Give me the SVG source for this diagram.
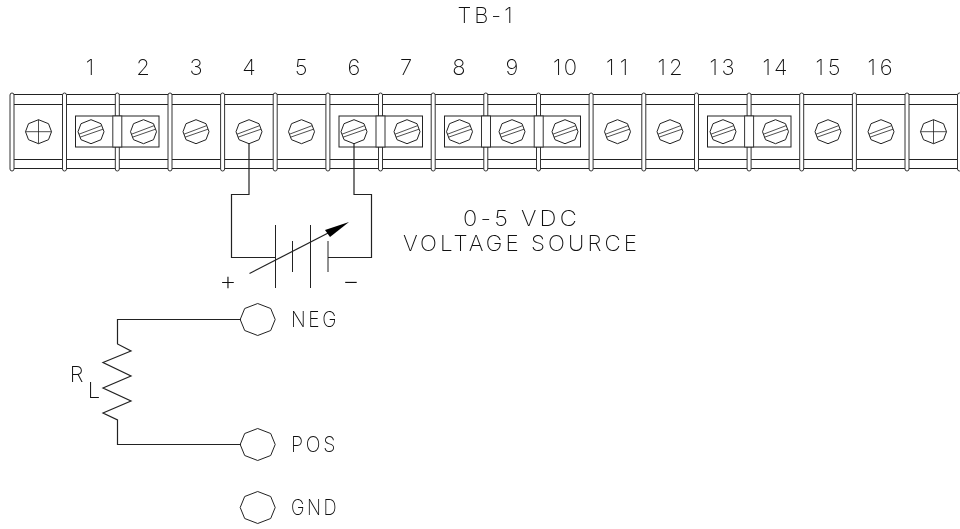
<svg xmlns="http://www.w3.org/2000/svg" width="960" height="529" viewBox="0 0 960 529">
<style>
.l{fill:none;stroke:#222;stroke-width:1}
.f{fill:none;stroke:#222;stroke-width:.8}
.w{fill:none;stroke:#222;stroke-width:1.2}
.b{fill:#fff;stroke:#333;stroke-width:1}
.t{font-family:"Inter","Liberation Sans",sans-serif;font-weight:200;font-size:22px;fill:#111;text-anchor:middle;filter:url(#g)}
.s{font-size:27px}
.x{letter-spacing:3px}
</style>
<defs>
<filter id="g" filterUnits="userSpaceOnUse" x="0" y="0" width="960" height="529"><feOffset dx="0" dy="0"/></filter>
<polygon id="oct" points="-13,0 -10,-8 0,-12 10,-8 13,0 10,8 0,12 -10,8" class="l"/>
<g id="screw"><use href="#oct"/><path class="f" d="M-12,2.500L10.500,-6M-11,5.500L12,-2.500"/></g>
<g id="cross"><use href="#oct"/><path class="f" d="M-13,0H13M0,-12V12"/></g>
<polygon id="post" points="-17.500,0 -13,-11 0,-16 13,-11 17.500,0 13,11 0,16 -13,11" class="l"/>
<rect id="bar" x="-2" y="93" width="4" height="78" rx="2" class="b"/>
</defs>
<g id="terminal-strip">
<path class="l" d="M10,94.500H960M10,104.500H960M10,159.500H960M10,168.500H960"/>
<use href="#bar" x="12"/><use href="#bar" x="64.500"/><use href="#bar" x="117.300"/><use href="#bar" x="170"/><use href="#bar" x="222.600"/><use href="#bar" x="275.200"/><use href="#bar" x="327.900"/><use href="#bar" x="380.500"/><use href="#bar" x="433.200"/><use href="#bar" x="485.800"/><use href="#bar" x="538.500"/><use href="#bar" x="591.100"/><use href="#bar" x="643.800"/><use href="#bar" x="696.500"/><use href="#bar" x="749.100"/><use href="#bar" x="801.700"/><use href="#bar" x="854.400"/><use href="#bar" x="907"/><use href="#bar" x="959.500"/>
<rect class="l" x="75.500" y="116" width="83.500" height="31"/>
<rect class="l" x="339" y="116" width="83.500" height="31"/>
<rect class="l" x="444.500" y="116" width="136" height="31"/>
<rect class="l" x="707.500" y="116" width="83.500" height="31"/>
<rect class="b" x="112.800" y="116" width="9" height="31"/>
<rect class="b" x="376" y="116" width="9" height="31"/>
<rect class="b" x="481.500" y="116" width="9" height="31"/>
<rect class="b" x="534.200" y="116" width="9" height="31"/>
<rect class="b" x="744.600" y="116" width="9" height="31"/>
</g>
<g id="end-left"><use href="#cross" x="38.500" y="131.700"/></g>
<g id="t1"><use href="#screw" x="91" y="131.700"/><text class="t" x="90" y="75">1</text></g>
<g id="t2"><use href="#screw" x="143.500" y="131.700"/><text class="t" x="143" y="75">2</text></g>
<g id="t3"><use href="#screw" x="196" y="131.700"/><text class="t" x="196" y="75">3</text></g>
<g id="t4"><use href="#screw" x="249" y="131.700"/><text class="t" x="249" y="75">4</text></g>
<g id="t5"><use href="#screw" x="301.500" y="131.700"/><text class="t" x="301" y="75">5</text></g>
<g id="t6"><use href="#screw" x="354" y="131.700"/><text class="t" x="354" y="75">6</text></g>
<g id="t7"><use href="#screw" x="407" y="131.700"/><text class="t" x="406" y="75">7</text></g>
<g id="t8"><use href="#screw" x="459.500" y="131.700"/><text class="t" x="459" y="75">8</text></g>
<g id="t9"><use href="#screw" x="512" y="131.700"/><text class="t" x="512" y="75">9</text></g>
<g id="t10"><use href="#screw" x="565" y="131.700"/><text class="t" x="565" y="75" textLength="24" lengthAdjust="spacing">10</text></g>
<g id="t11"><use href="#screw" x="617.500" y="131.700"/><text class="t" x="617" y="75" textLength="22" lengthAdjust="spacing">11</text></g>
<g id="t12"><use href="#screw" x="670" y="131.700"/><text class="t" x="670" y="75" textLength="25" lengthAdjust="spacing">12</text></g>
<g id="t13"><use href="#screw" x="723" y="131.700"/><text class="t" x="722" y="75" textLength="25" lengthAdjust="spacing">13</text></g>
<g id="t14"><use href="#screw" x="775.500" y="131.700"/><text class="t" x="775" y="75" textLength="25" lengthAdjust="spacing">14</text></g>
<g id="t15"><use href="#screw" x="828" y="131.700"/><text class="t" x="828" y="75" textLength="25" lengthAdjust="spacing">15</text></g>
<g id="t16"><use href="#screw" x="881" y="131.700"/><text class="t" x="880" y="75" textLength="25" lengthAdjust="spacing">16</text></g>
<g id="end-right"><use href="#cross" x="933.500" y="131.700"/></g>
<g id="title"><text class="t x" x="486.500" y="23" textLength="58" lengthAdjust="spacingAndGlyphs">TB-1</text></g>
<g id="connectors">
<path class="w" d="M249,144V194.500H231.500V257.500H275"/>
<path class="w" d="M328,257.500H371.500V194.500H354V144"/>
<path class="w" d="M241,319.500H117.500V344L131,351L103,362.500L131,376L103,388L131,401L103,413L117.500,420V444.500H241"/>
</g>
<g id="voltage-source">
<path class="l" d="M275.500,225V288M292.500,241V272M310.500,225V288M328,241V272"/>
<path class="w" d="M249.500,273.500L332,231"/>
<polygon points="349,222 325,230 330,237" fill="#000"/>
<text class="t s" x="228" y="290">+</text>
<text class="t s" x="351" y="290">−</text>
<text class="t x" x="521.500" y="226" textLength="117" lengthAdjust="spacingAndGlyphs">0-5 VDC</text>
<text class="t x" x="521.500" y="251" textLength="237" lengthAdjust="spacingAndGlyphs">VOLTAGE SOURCE</text>
</g>
<g id="neg"><use href="#post" x="257.700" y="319.500"/><text class="t x" x="315" y="327" textLength="48" lengthAdjust="spacingAndGlyphs">NEG</text></g>
<g id="pos"><use href="#post" x="257.700" y="444.500"/><text class="t x" x="314.500" y="452" textLength="47" lengthAdjust="spacingAndGlyphs">POS</text></g>
<g id="gnd"><use href="#post" x="257.700" y="507.500"/><text class="t x" x="315" y="515" textLength="48" lengthAdjust="spacingAndGlyphs">GND</text></g>
<g id="load-label"><text class="t" x="76.500" y="382">R</text><text class="t" x="94" y="398">L</text></g>
</svg>
